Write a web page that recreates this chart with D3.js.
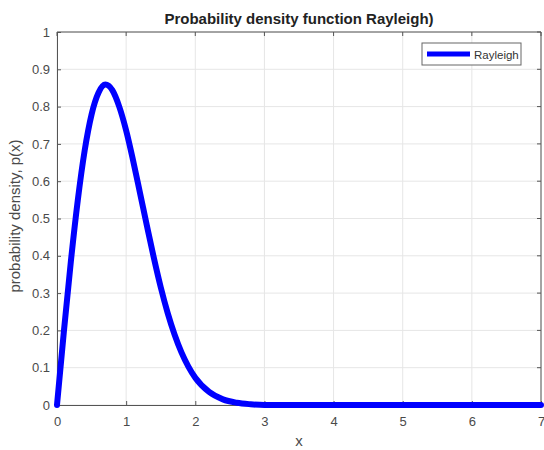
<!DOCTYPE html>
<html>
<head>
<meta charset="utf-8">
<script src="https://cdn.jsdelivr.net/npm/d3@7"></script>
<style>
  body { margin: 0; background: #fff; }
  svg { font-family: "Liberation Sans", Arial, sans-serif; }
</style>
</head>
<body>
<svg id="chart" width="544" height="450"></svg>
<script>
// values
const xValues = [0, 0.1, 0.2, 0.3, 0.4, 0.5, 0.6, 0.7, 0.8, 0.9, 1.0, 1.1, 1.2, 1.3, 1.4, 1.5,
                 1.6, 1.7, 1.8, 1.9, 2.0, 2.2, 2.4, 2.6, 2.8, 3.0, 4, 5, 6, 7];
const pValues = [0, 0.198, 0.384, 0.548, 0.682, 0.779, 0.837, 0.859, 0.844, 0.800, 0.736, 0.656,
                 0.569, 0.481, 0.395, 0.316, 0.247, 0.189, 0.141, 0.103, 0.073, 0.035, 0.015,
                 0.006, 0.002, 0, 0, 0, 0, 0];
const xTicks = [0, 1, 2, 3, 4, 5, 6, 7];
const yTicks = [0, 0.1, 0.2, 0.3, 0.4, 0.5, 0.6, 0.7, 0.8, 0.9, 1];
const seriesName = "Rayleigh";

const pLeft = 57, pRight = 541, pTop = 32, pBottom = 405;

const svg = d3.select("#chart");

const x = d3.scaleLinear().domain([0, 7]).range([pLeft, pRight]);
const y = d3.scaleLinear().domain([0, 1]).range([pBottom, pTop]);

// grid
svg.append("g").selectAll("line").data(xTicks).join("line")
  .attr("x1", d => x(d)).attr("x2", d => x(d))
  .attr("y1", pTop).attr("y2", pBottom)
  .attr("stroke", "#e6e6e6").attr("stroke-width", 1);
svg.append("g").selectAll("line").data(yTicks).join("line")
  .attr("x1", pLeft).attr("x2", pRight)
  .attr("y1", d => y(d)).attr("y2", d => y(d))
  .attr("stroke", "#e6e6e6").attr("stroke-width", 1);

// axes (ticks inside, matlab style)
const fmt = d3.format("~g");
const xAxis = svg.append("g").attr("transform", `translate(0,${pBottom})`)
  .call(d3.axisBottom(x).tickValues(xTicks).tickSizeInner(-4).tickSizeOuter(0).tickPadding(12).tickFormat(fmt));
const yAxis = svg.append("g").attr("transform", `translate(${pLeft},0)`)
  .call(d3.axisLeft(y).tickValues(yTicks).tickSizeInner(-4).tickSizeOuter(0).tickPadding(7).tickFormat(fmt));
[xAxis, yAxis].forEach(a => {
  a.selectAll("path, line").attr("stroke", "#555");
  a.selectAll("text").attr("fill", "#4a4a4a").style("font-size", "13px");
});

// box top/right
svg.append("line").attr("x1", pLeft).attr("x2", pRight).attr("y1", pTop).attr("y2", pTop).attr("stroke", "#555");
svg.append("line").attr("x1", pRight).attr("x2", pRight).attr("y1", pTop).attr("y2", pBottom).attr("stroke", "#555");
svg.append("g").selectAll("line").data(xTicks).join("line")
  .attr("x1", d => x(d)).attr("x2", d => x(d)).attr("y1", pTop).attr("y2", pTop + 4).attr("stroke", "#555");
svg.append("g").selectAll("line").data(yTicks).join("line")
  .attr("x1", pRight - 4).attr("x2", pRight).attr("y1", d => y(d)).attr("y2", d => y(d)).attr("stroke", "#555");

// curve
const line = d3.line().x(d => x(d[0])).y(d => y(d[1])).curve(d3.curveMonotoneX);
svg.append("path")
  .datum(d3.zip(xValues, pValues))
  .attr("d", line)
  .attr("fill", "none")
  .attr("stroke", "#0000ff")
  .attr("stroke-width", 6)
  .attr("stroke-linejoin", "round")
  .attr("stroke-linecap", "round");

// title and labels
svg.append("text").attr("x", 299).attr("y", 24)
  .attr("text-anchor", "middle").style("font-size", "15px").style("font-weight", "bold")
  .attr("fill", "#222").text("Probability density function Rayleigh)");
svg.append("text").attr("x", (pLeft + pRight) / 2).attr("y", 446)
  .attr("text-anchor", "middle").style("font-size", "15px").attr("fill", "#4a4a4a").text("x");
svg.append("text")
  .attr("transform", `translate(20,216) rotate(-90)`)
  .attr("text-anchor", "middle").style("font-size", "15px").attr("fill", "#4a4a4a")
  .text("probability density, p(x)");

// legend
const lg = svg.append("g");
lg.append("rect").attr("x", 422).attr("y", 43).attr("width", 99).attr("height", 22)
  .attr("fill", "#fff").attr("stroke", "#666").attr("stroke-width", 1);
lg.append("line").attr("x1", 427).attr("x2", 470).attr("y1", 54).attr("y2", 54)
  .attr("stroke", "#0000ff").attr("stroke-width", 5);
lg.append("text").attr("x", 474).attr("y", 58.5).style("font-size", "11.5px").attr("fill", "#333").text(seriesName);
</script>
</body>
</html>
